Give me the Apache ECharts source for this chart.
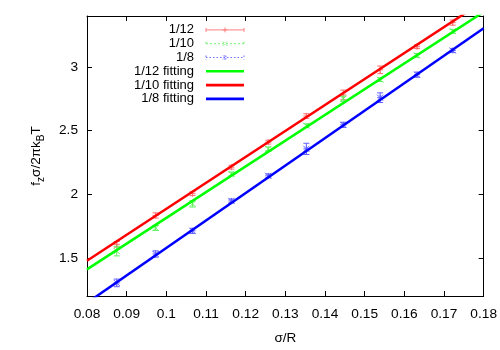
<!DOCTYPE html>
<html>
<head>
<meta charset="utf-8">
<script src="https://cdn.jsdelivr.net/npm/echarts@6/dist/echarts.min.js"></script>
<style>
  html, body { margin: 0; padding: 0; background: #fff; }
  #chart { width: 500px; height: 350px; }
</style>
</head>
<body>
<div id="chart"></div>
<script>
// sigma/R positions of the measured points
var xs = [0.0875, 0.0973, 0.1066, 0.1164, 0.1257, 0.1353, 0.1446, 0.1539, 0.1632, 0.1722];
// 1/12 (red), 1/10 (green), 1/8 (blue) with error bars
var y12 = [1.606, 1.833, 2.004, 2.212, 2.409, 2.614, 2.780, 2.977, 3.159, 3.348];
var e12 = [0.022, 0.020, 0.015, 0.015, 0.015, 0.018, 0.038, 0.030, 0.015, 0.020];
var y10 = [1.553, 1.735, 1.924, 2.159, 2.356, 2.538, 2.750, 2.900, 3.090, 3.280];
var e10 = [0.038, 0.020, 0.025, 0.015, 0.015, 0.015, 0.020, 0.015, 0.015, 0.015];
var y8  = [1.303, 1.530, 1.712, 1.947, 2.144, 2.356, 2.545, 2.758, 2.939, 3.129];
var e8  = [0.030, 0.025, 0.020, 0.015, 0.015, 0.044, 0.020, 0.038, 0.020, 0.015];
// fitting lines, end points at sigma/R = 0.08 and 0.18
var fitX = [0.08, 0.18];
var fit12 = [1.409, 3.432];
var fit10 = [1.477, 3.517];
var fit8  = [1.146, 3.303];
// tick labels
var yTicks = [1.5, 2, 2.5, 3];

var FONT = 'Liberation Sans';

function pts(ys, es) {
  return xs.map(function (x, i) { return [x, ys[i], es[i]]; });
}
function line(xa, ya) {
  return xa.map(function (x, i) { return [x, ya[i]]; });
}

// error bar + point marker
function errItem(color, mark) {
  return function (params, api) {
    var x = api.value(0), y = api.value(1), e = api.value(2);
    var p = api.coord([x, y]);
    var lo = api.coord([x, y - e]);
    var hi = api.coord([x, y + e]);
    var st = { stroke: color, lineWidth: 1 };
    var c = 3, m = 3;
    var kids = [
      { type: 'line', shape: { x1: p[0], y1: lo[1], x2: p[0], y2: hi[1] }, style: st },
      { type: 'line', shape: { x1: p[0] - c, y1: lo[1], x2: p[0] + c, y2: lo[1] }, style: st },
      { type: 'line', shape: { x1: p[0] - c, y1: hi[1], x2: p[0] + c, y2: hi[1] }, style: st }
    ];
    if (mark === 'plus' || mark === 'star') {
      kids.push({ type: 'line', shape: { x1: p[0] - m, y1: p[1], x2: p[0] + m, y2: p[1] }, style: st });
      kids.push({ type: 'line', shape: { x1: p[0], y1: p[1] - m, x2: p[0], y2: p[1] + m }, style: st });
    }
    if (mark === 'cross' || mark === 'star') {
      kids.push({ type: 'line', shape: { x1: p[0] - m, y1: p[1] - m, x2: p[0] + m, y2: p[1] + m }, style: st });
      kids.push({ type: 'line', shape: { x1: p[0] - m, y1: p[1] + m, x2: p[0] + m, y2: p[1] - m }, style: st });
    }
    return { type: 'group', children: kids };
  };
}

// legend icons, 38x12 boxes (the zero-length moves pin the box size)
var box = 'M0,0L0,0M38,12L38,12';
var iconPlus = 'path://' + box + 'M0,4L0,8M0,6L38,6M38,4L38,8M19,3.5L19,8.5M16.5,6L21.5,6';
var iconCross = 'path://' + box + 'M0,4L0,8M0,6L38,6M38,4L38,8M17,4L21,8M17,8L21,4';
var iconStar = 'path://' + box + 'M0,4L0,8M0,6L38,6M38,4L38,8M17,4L21,8M17,8L21,4M19,3.5L19,8.5';
var iconFit = 'path://' + box + 'M0,4.7L38,4.7L38,7.3L0,7.3Z';

var axisCommon = {
  type: 'value',
  axisLine: { lineStyle: { color: '#000', width: 1 } },
  axisTick: { inside: true, length: 5, lineStyle: { color: '#000' } },
  splitLine: { show: false }
};

var chart = echarts.init(document.getElementById('chart'));
chart.setOption({
  animation: false,
  backgroundColor: '#fff',
  textStyle: { fontFamily: FONT },
  grid: { left: 87, right: 15, top: 16, bottom: 45 },
  legend: {
    orient: 'vertical',
    align: 'right',
    left: 129,
    top: 18,
    itemGap: 0,
    itemWidth: 38,
    itemHeight: 12,
    textStyle: { fontSize: 13, lineHeight: 13.8, color: '#000', fontFamily: FONT, padding: [0, 7, 0, 0] },
    selectedMode: false,
    data: [
      { name: '1/12', icon: iconPlus, itemStyle: { color: 'transparent', borderColor: '#ff8080', borderWidth: 1 } },
      { name: '1/10', icon: iconCross, itemStyle: { color: 'transparent', borderColor: '#70f070', borderWidth: 1, borderType: [2, 2] } },
      { name: '1/8', icon: iconStar, itemStyle: { color: 'transparent', borderColor: '#7070ff', borderWidth: 1, borderType: [1.5, 2] } },
      { name: '1/12 fitting', icon: iconFit, itemStyle: { color: '#00ff00', borderWidth: 0 } },
      { name: '1/10 fitting', icon: iconFit, itemStyle: { color: '#ff0000', borderWidth: 0 } },
      { name: '1/8 fitting', icon: iconFit, itemStyle: { color: '#0000ff', borderWidth: 0 } }
    ]
  },
  xAxis: [
    Object.assign({}, axisCommon, {
      position: 'bottom', min: 0.08, max: 0.18, interval: 0.01,
      name: 'σ/R', nameLocation: 'middle', nameGap: 35,
      nameTextStyle: { fontSize: 13.5, color: '#000', fontFamily: FONT },
      axisLabel: {
        fontSize: 13.7, color: '#000', margin: 11, fontFamily: FONT,
        formatter: function (v) { return String(parseFloat(v.toFixed(2))); }
      }
    }),
    Object.assign({}, axisCommon, {
      position: 'top', min: 0.08, max: 0.18, interval: 0.01,
      axisLabel: { show: false }
    })
  ],
  yAxis: [
    Object.assign({}, axisCommon, {
      position: 'left', min: 1.2, max: 3.4,
      axisTick: { inside: true, length: 5, lineStyle: { color: '#000' }, customValues: yTicks },
      axisLabel: { fontSize: 13.7, color: '#000', margin: 9, fontFamily: FONT, customValues: yTicks },
      name: '{n|f}{s|z}{n|σ/2πk}{s|B}{n|T}',
      nameLocation: 'middle', nameRotate: 90, nameGap: 44,
      nameTextStyle: {
        rich: {
          n: { fontSize: 13.5, color: '#000', fontFamily: FONT, verticalAlign: 'bottom' },
          s: { fontSize: 10, color: '#000', fontFamily: FONT, verticalAlign: 'bottom', padding: [0, 0, -3, 0] }
        }
      }
    }),
    Object.assign({}, axisCommon, {
      position: 'right', min: 1.2, max: 3.4,
      axisTick: { inside: true, length: 5, lineStyle: { color: '#000' }, customValues: yTicks },
      axisLabel: { show: false, customValues: yTicks }
    })
  ],
  series: [
    { name: '1/12', type: 'custom', renderItem: errItem('#ff7070', 'plus'), data: pts(y12, e12), z: 3 },
    { name: '1/10', type: 'custom', renderItem: errItem('#60f060', 'cross'), data: pts(y10, e10), z: 3 },
    { name: '1/8', type: 'custom', renderItem: errItem('#6060ff', 'star'), data: pts(y8, e8), z: 3 },
    { name: '1/12 fitting', type: 'line', symbol: 'none', clip: true, data: line(fitX, fit12),
      lineStyle: { color: '#00ff00', width: 2.5 }, itemStyle: { color: '#00ff00' }, z: 4 },
    { name: '1/10 fitting', type: 'line', symbol: 'none', clip: true, data: line(fitX, fit10),
      lineStyle: { color: '#ff0000', width: 2.5 }, itemStyle: { color: '#ff0000' }, z: 4 },
    { name: '1/8 fitting', type: 'line', symbol: 'none', clip: true, data: line(fitX, fit8),
      lineStyle: { color: '#0000ff', width: 2.5 }, itemStyle: { color: '#0000ff' }, z: 4 }
  ]
});
</script>
</body>
</html>
